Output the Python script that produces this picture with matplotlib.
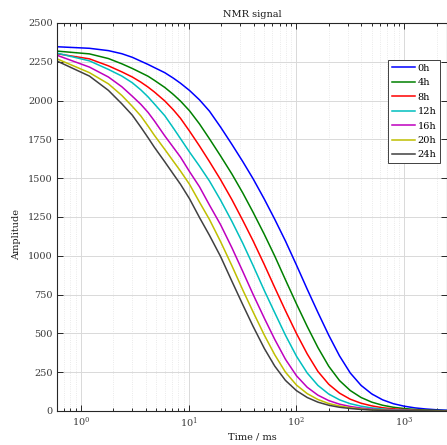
import matplotlib
matplotlib.use("Agg")
import matplotlib.pyplot as plt
from matplotlib.ticker import LogLocator, NullLocator, FixedLocator, NullFormatter

plt.rcParams.update({
    "font.family": "DejaVu Serif",
    "mathtext.fontset": "dejavuserif",
    "font.size": 7,
})

# Echo times (ms) and decay amplitudes for each ageing time
time_ms = [0.6, 1.2, 1.8, 2.4, 3.0, 3.6, 4.2, 4.8, 6.0, 7.2, 8.4, 10.2, 12.6, 15.6,
           19.8, 25.2, 31.8, 39.6, 50.4, 63, 79.2, 100.2, 126, 158.4, 199.8, 251.4,
           316.2, 398.4, 501, 631.2, 795, 1000.8, 1260, 1585.2, 1995.6, 2500]

amp_0h = [2347, 2337, 2322, 2302, 2279, 2254, 2233, 2213, 2180, 2145, 2112, 2065,
          2005, 1932, 1829, 1718, 1607, 1497, 1365, 1235, 1095, 940, 785, 635,
          488, 355, 245, 165, 110, 72, 47, 31, 20, 13, 8, 5]
amp_4h = [2319, 2301, 2271, 2237, 2207, 2180, 2157, 2131, 2085, 2040, 1997, 1934,
          1850, 1754, 1643, 1527, 1405, 1281, 1138, 998, 845, 690, 545, 409,
          288, 196, 132, 87, 57, 37, 24, 16, 10, 6, 4, 2]
amp_8h = [2302, 2269, 2224, 2185, 2152, 2119, 2087, 2056, 1998, 1941, 1886, 1803,
          1708, 1607, 1490, 1362, 1228, 1097, 943, 795, 646, 499, 368, 255,
          172, 115, 76, 50, 33, 21, 14, 9, 5, 3, 2, 1]
amp_12h = [2306, 2256, 2201, 2158, 2115, 2069, 2024, 1979, 1903, 1824, 1755, 1668,
           1578, 1482, 1358, 1222, 1081, 938, 776, 633, 488, 353, 245, 165,
           109, 72, 47, 31, 20, 13, 8, 5, 3, 2, 1, 1]
amp_16h = [2292, 2216, 2152, 2089, 2028, 1976, 1924, 1870, 1773, 1699, 1636, 1542,
           1445, 1327, 1200, 1052, 899, 752, 598, 461, 333, 227, 153, 102,
           67, 44, 29, 19, 12, 7, 5, 3, 2, 1, 1, 1]
amp_20h = [2269, 2180, 2108, 2033, 1963, 1901, 1836, 1777, 1686, 1610, 1546, 1460,
           1346, 1234, 1091, 936, 780, 639, 489, 362, 250, 167, 112, 74,
           48, 32, 21, 13, 8, 5, 3, 2, 1, 1, 1, 0]
amp_24h = [2255, 2158, 2066, 1979, 1906, 1829, 1761, 1700, 1606, 1527, 1461, 1367,
           1247, 1132, 995, 836, 685, 546, 403, 289, 197, 131, 87, 57,
           37, 24, 16, 10, 6, 4, 2, 2, 1, 1, 0, 0]

series_labels = ["0h", "4h", "8h", "12h", "16h", "20h", "24h"]
series_values = [amp_0h, amp_4h, amp_8h, amp_12h, amp_16h, amp_20h, amp_24h]
series_colors = ["#0000ff", "#008000", "#ff0000", "#00bfbf", "#bf00bf", "#bfbf00", "#404040"]

y_ticks = [0, 250, 500, 750, 1000, 1250, 1500, 1750, 2000, 2250, 2500]

fig = plt.figure(figsize=(4.47, 4.45), dpi=100)
ax = fig.add_axes([57 / 447, 34 / 445, 390 / 447, 388 / 445])

for vals, lab, col in zip(series_values, series_labels, series_colors):
    ax.plot(time_ms, vals, color=col, lw=1.1, label=lab)

ax.set_xscale("log")
ax.set_xlim(0.6, 2500)
ax.set_ylim(0, 2500)
ax.yaxis.set_major_locator(FixedLocator(y_ticks))
ax.yaxis.set_minor_locator(NullLocator())
ax.xaxis.set_major_locator(LogLocator(base=10, numticks=10))
ax.xaxis.set_minor_locator(LogLocator(base=10, subs=range(2, 10), numticks=20))
ax.xaxis.set_minor_formatter(NullFormatter())

ax.set_axisbelow(True)
ax.grid(which="major", color="#d9d9d9", lw=0.7, ls="-")
ax.grid(which="minor", axis="x", color="#e3e3e3", lw=0.6, ls=":")

ax.tick_params(which="both", direction="in", top=True, right=True,
               colors="#262626", labelcolor="#3a3a3a", width=0.7)
ax.tick_params(which="major", length=4, pad=3)
ax.tick_params(which="minor", length=2.3)
for sp in ax.spines.values():
    sp.set_color("#262626")
    sp.set_linewidth(0.8)

ax.set_title("NMR signal", fontsize=7, pad=4, color="#1a1a1a")
ax.set_xlabel("Time / ms", fontsize=7, labelpad=2, color="#1a1a1a")
ax.set_ylabel("Amplitude", fontsize=7, color="#1a1a1a")
ax.yaxis.set_label_coords(-0.092, 0.454)

leg = ax.legend(loc="upper right", bbox_to_anchor=(0.982, 0.905), borderaxespad=0,
                fancybox=False, edgecolor="#404040", framealpha=1, fontsize=7,
                handlelength=2.4, handletextpad=0.25, labelspacing=0.56,
                borderpad=0.4)
leg.get_frame().set_linewidth(0.7)

fig.savefig("out.png", dpi=100)
